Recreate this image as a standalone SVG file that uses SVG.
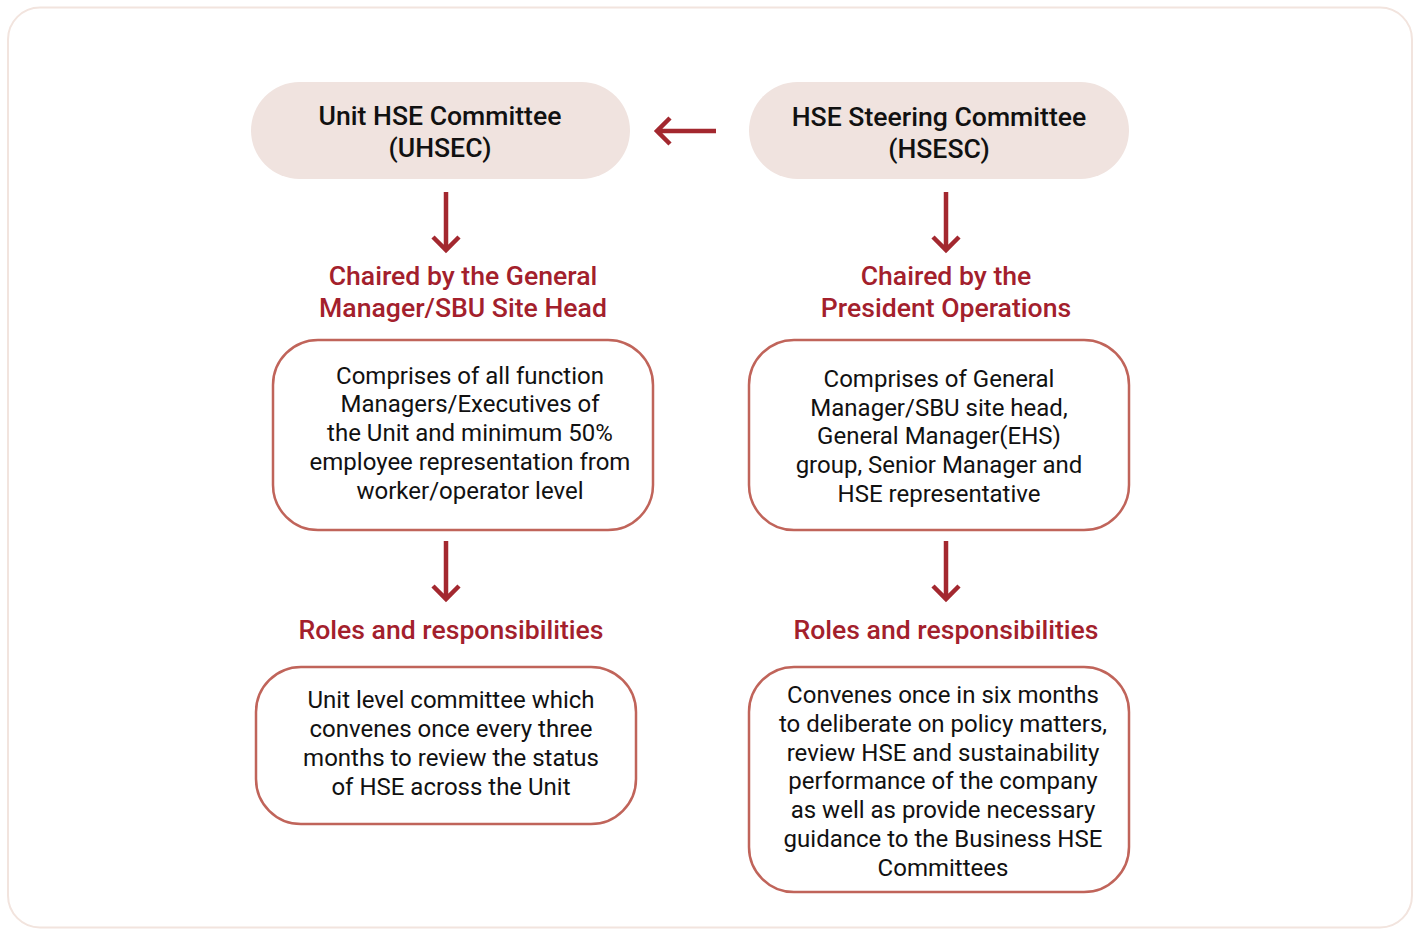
<svg xmlns="http://www.w3.org/2000/svg" width="1414" height="931" viewBox="0 0 1414 931">
<defs>
<style>
.pill{fill:#f0e3df;}
.box{fill:#ffffff;stroke:#c0645a;stroke-width:2.5;}
.ttl{font-family:Roboto,"Liberation Sans",sans-serif;font-size:26.6px;font-weight:500;fill:#111;text-anchor:middle;}
.red{font-family:Roboto,"Liberation Sans",sans-serif;font-size:26.6px;font-weight:500;fill:#a3202c;text-anchor:middle;}
.txt{font-family:Roboto,"Liberation Sans",sans-serif;font-size:24px;fill:#111;text-anchor:middle;}
.arr{stroke:#a3282f;stroke-width:4.5;fill:none;}
</style>
</defs>
<rect x="0" y="0" width="1414" height="931" fill="#ffffff"/>
<rect x="8" y="7.5" width="1404" height="920" rx="32" fill="#ffffff" stroke="#f2e4de" stroke-width="2"/>

<g id="uhsec">
<rect class="pill" x="251" y="82" width="379" height="97" rx="48.5"/>
<text class="ttl" x="440" y="125">Unit HSE Committee</text>
<text class="ttl" x="440" y="157">(UHSEC)</text>
</g>
<g id="hsesc">
<rect class="pill" x="749" y="82" width="380" height="97" rx="48.5"/>
<text class="ttl" x="939" y="126">HSE Steering Committee</text>
<text class="ttl" x="939" y="158">(HSESC)</text>
</g>

<g id="chair-left">
<text class="red" x="463" y="285">Chaired by the General</text>
<text class="red" x="463" y="317">Manager/SBU Site Head</text>
</g>
<g id="chair-right">
<text class="red" x="946" y="285">Chaired by the</text>
<text class="red" x="946" y="317">President Operations</text>
</g>

<g id="comp-left">
<rect class="box" x="273" y="340" width="380" height="190" rx="45"/>
<text class="txt" x="470" y="384">Comprises of all function</text>
<text class="txt" x="470" y="412">Managers/Executives of</text>
<text class="txt" x="470" y="441">the Unit and minimum 50%</text>
<text class="txt" x="470" y="470">employee representation from</text>
<text class="txt" x="470" y="499">worker/operator level</text>
</g>
<g id="comp-right">
<rect class="box" x="749" y="340" width="380" height="190" rx="45"/>
<text class="txt" x="939" y="387">Comprises of General</text>
<text class="txt" x="939" y="416">Manager/SBU site head,</text>
<text class="txt" x="939" y="444">General Manager(EHS)</text>
<text class="txt" x="939" y="473">group, Senior Manager and</text>
<text class="txt" x="939" y="502">HSE representative</text>
</g>

<g id="roles-left-label">
<text class="red" x="451" y="639">Roles and responsibilities</text>
</g>
<g id="roles-right-label">
<text class="red" x="946" y="639">Roles and responsibilities</text>
</g>

<g id="roles-left">
<rect class="box" x="256" y="667" width="380" height="157" rx="45"/>
<text class="txt" x="451" y="708">Unit level committee which</text>
<text class="txt" x="451" y="737">convenes once every three</text>
<text class="txt" x="451" y="766">months to review the status</text>
<text class="txt" x="451" y="795">of HSE across the Unit</text>
</g>
<g id="roles-right">
<rect class="box" x="749" y="667" width="380" height="225" rx="45"/>
<text class="txt" x="943" y="703">Convenes once in six months</text>
<text class="txt" x="943" y="732">to deliberate on policy matters,</text>
<text class="txt" x="943" y="761">review HSE and sustainability</text>
<text class="txt" x="943" y="789">performance of the company</text>
<text class="txt" x="943" y="818">as well as provide necessary</text>
<text class="txt" x="943" y="847">guidance to the Business HSE</text>
<text class="txt" x="943" y="876">Committees</text>
</g>

<g id="connectors">
<path class="arr" d="M716 131 H657 M670 118 L657 131 L670 144"/>
<path class="arr" d="M446 192 V250 M433 237 L446 250 L459 237"/>
<path class="arr" d="M946 192 V250 M933 237 L946 250 L959 237"/>
<path class="arr" d="M446 541 V599 M433 586 L446 599 L459 586"/>
<path class="arr" d="M946 541 V599 M933 586 L946 599 L959 586"/>
</g>
</svg>
